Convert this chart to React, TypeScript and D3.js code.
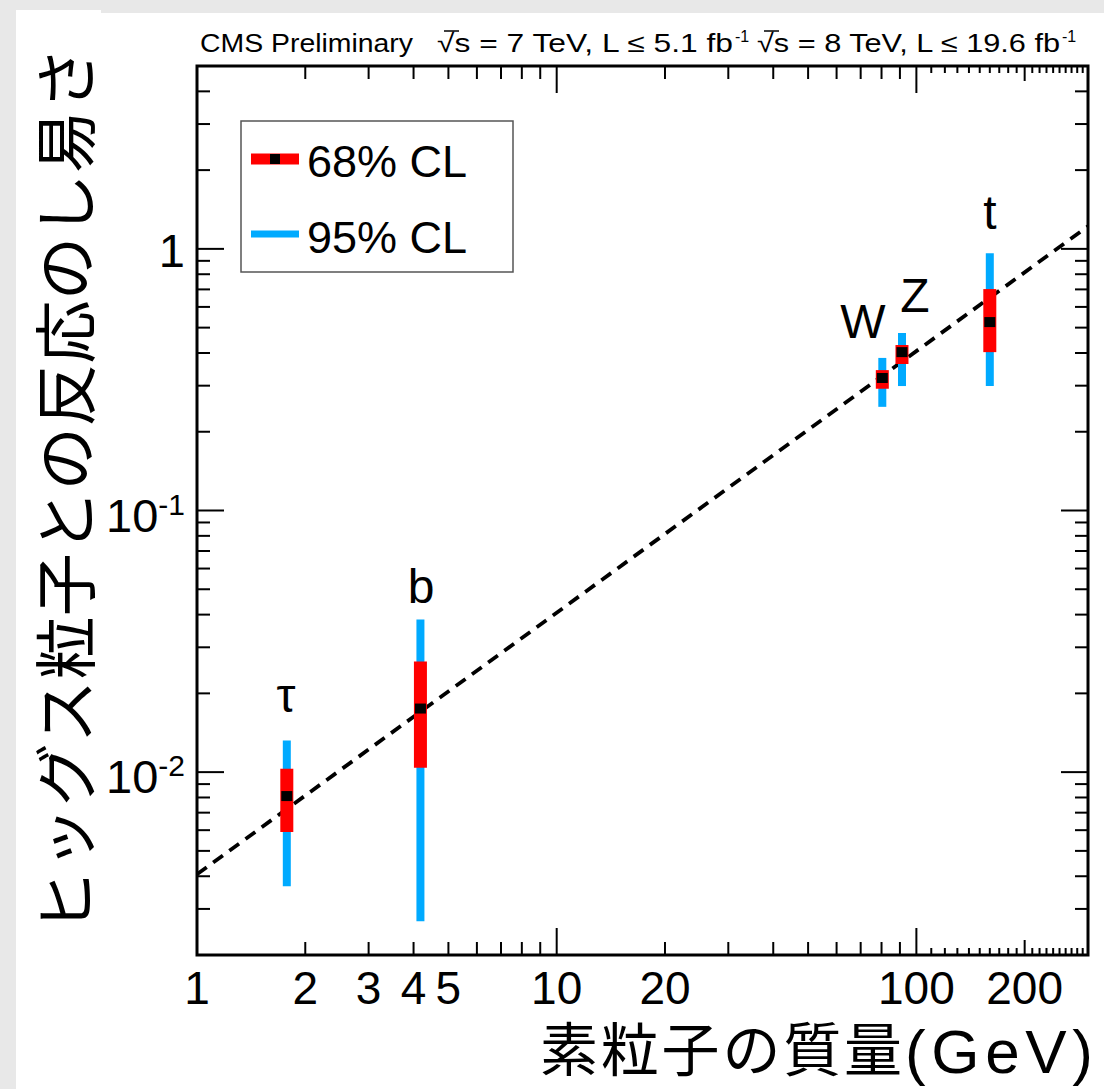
import React from "react";
import * as d3 from "d3";

// ---- data ----
const particles = ["τ", "b", "W", "Z", "t"];
const masses = [1.777, 4.18, 80.4, 91.19, 160];
const centers = [0.0081, 0.0175, 0.321, 0.403, 0.525];
const lo68 = [0.0059, 0.0104, 0.292, 0.363, 0.403];
const hi68 = [0.0103, 0.0265, 0.344, 0.429, 0.702];
const lo95 = [0.00366, 0.00269, 0.249, 0.299, 0.299];
const hi95 = [0.0132, 0.0383, 0.383, 0.477, 0.963];
const fitMass = [1, 300];
const fitValue = [0.00407, 1.22];
const xTickLabels = [1, 2, 3, 4, 5, 10, 20, 100, 200];
const yTickLabels = [
  { v: 1, base: "1", exp: "" },
  { v: 0.1, base: "10", exp: "-1" },
  { v: 0.01, base: "10", exp: "-2" },
];
const legendLabels = ["68% CL", "95% CL"];
const xTitleCJK = "素粒子の質量";
const xTitleUnit = "(GeV)";
const yTitle = "ヒッグス粒子との反応のし易さ";
const header = ["CMS Preliminary", "√s = 7 TeV, L ≤ 5.1 fb", "√s = 8 TeV, L ≤ 19.6 fb"];

const W = 1104;
const H = 1089;
const L = 197, R = 1088, T = 66, B = 955;
const FONT = "'Liberation Sans', Arial, Helvetica, sans-serif";
const CJK = "'Noto Sans CJK JP', 'Noto Sans CJK SC', sans-serif";
const RED = "#ff0000";
const BLUE = "#00aaff";

export default function App() {
  const x = d3.scaleLog().domain([1, 300]).range([L, R]);
  const y = d3.scaleLog().domain([0.002, 5]).range([B, T]);

  const isMajor = (v: number) => Math.abs(Math.log10(v) - Math.round(Math.log10(v))) < 1e-9;
  const xTicks = x.ticks();
  const xFine = d3.range(110, 300, 10).filter((v) => v !== 200);
  const yTicks = y.ticks();

  const xLen = (v: number) => (isMajor(v) ? 27 : v === 200 ? 15 : v > 100 ? 7 : 13);
  const yLen = (v: number) => (isMajor(v) ? 27 : 13);

  const line = d3
    .line<number>()
    .x((_, i) => x(fitMass[i]))
    .y((d) => y(d));

  return (
    <svg
      width={W}
      height={H}
      style={{ position: "absolute", left: 0, top: 0 }}
      xmlns="http://www.w3.org/2000/svg"
    >
      <rect x={0} y={0} width={W} height={H} fill="#e8e8e8" />
      <rect x={16} y={13} width={W - 16} height={H - 13} fill="#ffffff" />
      <rect x={16} y={10} width={85} height={4} fill="#ffffff" />

      {/* header */}
      <g fontFamily={FONT} fontSize={26} fill="#000">
        <text x={200} y={52} textLength={213} lengthAdjust="spacingAndGlyphs">{header[0]}</text>
        <text x={437} y={52} textLength={296} lengthAdjust="spacingAndGlyphs">{header[1]}</text>
        <text x={735} y={42} fontSize={16}>-1</text>
        <text x={757} y={52} textLength={303} lengthAdjust="spacingAndGlyphs">{header[2]}</text>
        <text x={1062} y={42} fontSize={16}>-1</text>
      </g>
      <g stroke="#000" strokeWidth={1.5}>
        <line x1={444} x2={459} y1={31} y2={31} />
        <line x1={764} x2={779} y1={31} y2={31} />
      </g>

      {/* fit line */}
      <path
        d={line(fitValue) || ""}
        fill="none"
        stroke="#000"
        strokeWidth={3.8}
        strokeDasharray="12,8"
      />

      {/* error bars */}
      {particles.map((p, i) => (
        <g key={p}>
          <line x1={x(masses[i])} x2={x(masses[i])} y1={y(lo95[i])} y2={y(hi95[i])} stroke={BLUE} strokeWidth={8} />
          <line x1={x(masses[i])} x2={x(masses[i])} y1={y(lo68[i])} y2={y(hi68[i])} stroke={RED} strokeWidth={13} />
          <rect x={x(masses[i]) - 5.5} y={y(centers[i]) - 5} width={11} height={10} fill="#000" />
        </g>
      ))}

      {/* particle labels */}
      <g fontFamily={FONT} fontSize={48} fill="#000" textAnchor="middle">
        <text x={286} y={712}>{particles[0]}</text>
        <text x={421} y={603}>{particles[1]}</text>
        <text x={863} y={338}>{particles[2]}</text>
        <text x={915} y={312}>{particles[3]}</text>
        <text x={990} y={229}>{particles[4]}</text>
      </g>

      {/* ticks */}
      <g stroke="#000" strokeWidth={2}>
        {xTicks.map((v) => (
          <g key={"xt" + v}>
            <line x1={x(v)} x2={x(v)} y1={B} y2={B - xLen(v)} />
            <line x1={x(v)} x2={x(v)} y1={T} y2={T + xLen(v)} />
          </g>
        ))}
        {xFine.map((v) => (
          <g key={"xf" + v}>
            <line x1={x(v)} x2={x(v)} y1={B} y2={B - 7} />
            <line x1={x(v)} x2={x(v)} y1={T} y2={T + 7} />
          </g>
        ))}
        {yTicks.map((v) => (
          <g key={"yt" + v}>
            <line x1={L} x2={L + yLen(v)} y1={y(v)} y2={y(v)} />
            <line x1={R} x2={R - yLen(v)} y1={y(v)} y2={y(v)} />
          </g>
        ))}
      </g>

      {/* frame */}
      <rect x={L} y={T} width={R - L} height={B - T} fill="none" stroke="#000" strokeWidth={3} />

      {/* x tick labels */}
      <g fontFamily={FONT} fontSize={46} fill="#000" textAnchor="middle">
        {xTickLabels.map((v) => (
          <text key={"xl" + v} x={x(v)} y={1004}>{v}</text>
        ))}
      </g>

      {/* y tick labels */}
      <g fontFamily={FONT} fontSize={47} fill="#000" textAnchor="end">
        {yTickLabels.map((t) =>
          t.exp ? (
            <text key={"yl" + t.v} x={185} y={y(t.v) + 21}>
              {t.base}
              <tspan fontSize={30} dy={-17}>{t.exp}</tspan>
            </text>
          ) : (
            <text key={"yl" + t.v} x={185} y={y(t.v) + 18}>{t.base}</text>
          )
        )}
      </g>

      {/* legend */}
      <rect x={241} y={121} width={272} height={151} fill="#fff" stroke="#555" strokeWidth={1.5} />
      <line x1={251} x2={299} y1={159} y2={159} stroke={RED} strokeWidth={11} />
      <rect x={270} y={154} width={10} height={10} fill="#000" />
      <line x1={251} x2={299} y1={234} y2={234} stroke={BLUE} strokeWidth={7} />
      <g fontFamily={FONT} fontSize={45} fill="#000">
        <text x={307} y={177}>{legendLabels[0]}</text>
        <text x={307} y={253}>{legendLabels[1]}</text>
      </g>

      {/* axis titles */}
      <text x={540} y={1071} fontFamily={CJK} fontSize={58} fill="#000" textLength={362} lengthAdjust="spacing">
        {xTitleCJK}
      </text>
      <text x={905} y={1073} fontFamily={FONT} fontSize={62} fill="#000" textLength={188} lengthAdjust="spacing">
        {xTitleUnit}
      </text>
      <text
        transform={`translate(61,490) rotate(-90)`}
        fontFamily={CJK}
        fontSize={63}
        textAnchor="middle"
        dominantBaseline="central"
        textLength={886}
        lengthAdjust="spacing"
        fill="#000"
      >
        {yTitle}
      </text>
    </svg>
  );
}
